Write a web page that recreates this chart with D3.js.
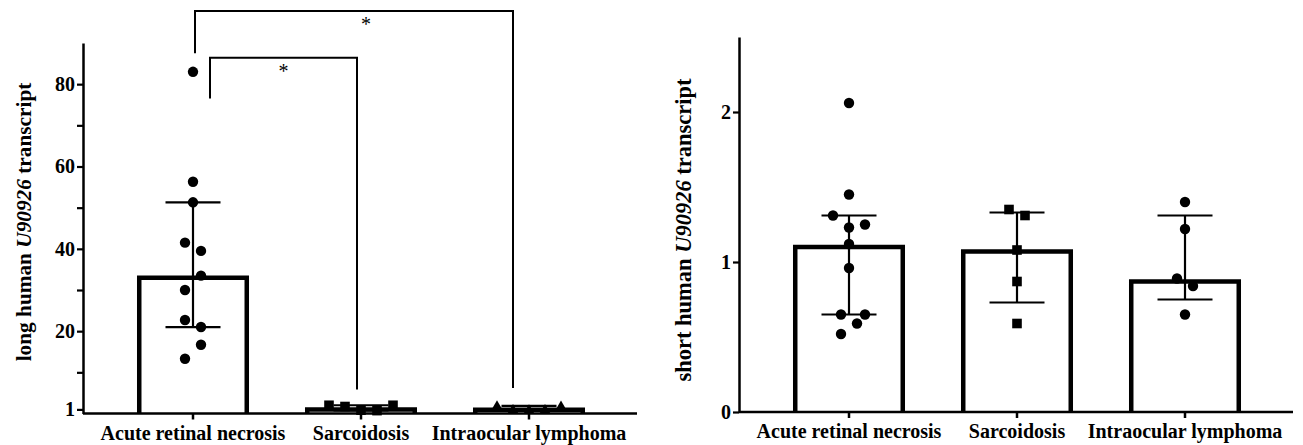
<!DOCTYPE html>
<html lang="en">
<head>
    <meta charset="UTF-8">
    <title>U90926 transcript</title>
    <script src="https://d3js.org/d3.v7.min.js"></script>
    <style>
        body { margin: 0; padding: 0; background: #fff; }
        svg { display: block; font-family: "Liberation Serif", "Times New Roman", serif; }
        .tick text { font-weight: bold; }
    </style>
</head>
<body>
    <svg id="chart" width="1303" height="445"></svg>

    <script>
        // 分类
        const categories = ["Acute retinal necrosis", "Sarcoidosis", "Intraocular lymphoma"];

        // 左图: long human U90926 transcript
        const longArn = [83, 56.3, 51.3, 41.5, 39.5, 33.5, 30, 22.7, 21, 16.7, 13.3];
        const longSarc = [2.0, 1.7, 0.8, 0.7, 2.0];
        const longIol = [1.9, 1.0, 0.9, 1.0, 1.8];
        const longMedian = [33, 1.0, 0.9];
        const longQ1 = [21, 0.75, 0.9];
        const longQ3 = [51.3, 2.0, 1.85];
        const longTicks = [1, 10, 20, 30, 40, 50, 60, 70, 80];
        const longLabels = ["1", "", "20", "", "40", "", "60", "", "80"];

        // 右图: short human U90926 transcript
        const shortArn = [2.06, 1.45, 1.31, 1.23, 1.25, 1.12, 0.96, 0.65, 0.65, 0.59, 0.52];
        const shortSarc = [1.35, 1.31, 1.08, 0.87, 0.59];
        const shortIol = [1.40, 1.22, 0.89, 0.84, 0.65];
        const shortMedian = [1.10, 1.07, 0.87];
        const shortQ1 = [0.65, 0.73, 0.75];
        const shortQ3 = [1.31, 1.33, 1.31];
        const shortTicks = [0, 1, 2];
        const shortLabels = ["0", "1", "2"];

        const svg = d3.select("#chart");
        svg.append("rect").attr("width", 1303).attr("height", 445).attr("fill", "#fff");

        // 画一个点的形状
        function marker(g, shape, x, y) {
            if (shape === "circle") {
                g.append("circle").attr("cx", x).attr("cy", y).attr("r", 5.2).attr("fill", "#000");
            } else if (shape === "square") {
                g.append("rect").attr("x", x - 4.8).attr("y", y - 4.8)
                    .attr("width", 9.6).attr("height", 9.6).attr("fill", "#000");
            } else {
                g.append("path")
                    .attr("d", `M${x},${y - 5.5}L${x + 5.5},${y + 4}L${x - 5.5},${y + 4}Z`)
                    .attr("fill", "#000");
            }
        }

        function drawPanel(p) {
            const g = svg.append("g");
            const x0 = p.axisX;
            const y = d3.scaleLinear().domain(p.domain).range([p.baseY, p.topY]);
            const x = d3.scaleBand().domain(categories)
                .range([x0 + 26, x0 + 530]).paddingInner(0.36).paddingOuter(0.18);
            const bw = x.bandwidth();

            // 柱子（无底边）
            p.median.forEach((m, i) => {
                const l = x(categories[i]), r = l + bw;
                g.append("path")
                    .attr("d", `M${l},${y(0)}V${y(m)}H${r}V${y(0)}`)
                    .attr("fill", "#fff").attr("stroke", "#000")
                    .attr("stroke-width", 4.5).attr("stroke-linejoin", "miter");
            });

            // 误差线
            p.median.forEach((m, i) => {
                const cx = x(categories[i]) + bw / 2;
                const eg = g.append("g").attr("stroke", "#000").attr("stroke-width", 2.2);
                eg.append("line").attr("x1", cx).attr("x2", cx)
                    .attr("y1", y(p.q1[i])).attr("y2", y(p.q3[i]));
                [p.q1[i], p.q3[i]].forEach(v => {
                    eg.append("line").attr("x1", cx - 27.5).attr("x2", cx + 27.5)
                        .attr("y1", y(v)).attr("y2", y(v));
                });
            });

            // 散点
            p.points.forEach((vals, i) => {
                const cx = x(categories[i]) + bw / 2;
                vals.forEach((v, j) => {
                    marker(g, p.shapes[i], cx + p.offsets[i][j] * 8, y(v));
                });
            });

            // x 轴
            g.append("line").attr("x1", x0).attr("x2", x0 + 554)
                .attr("y1", y(0)).attr("y2", y(0))
                .attr("stroke", "#000").attr("stroke-width", 2.5);
            const xa = g.append("g").attr("transform", `translate(0,${y(0)})`)
                .call(d3.axisBottom(x).tickSize(6).tickSizeOuter(0));
            xa.select(".domain").remove();
            xa.selectAll(".tick line").attr("stroke-width", 2.5);
            xa.selectAll(".tick text").attr("font-size", 20).attr("fill", "#000")
                .attr("font-family", "Liberation Serif").attr("dy", "0.62em").attr("y", 14);

            // y 轴
            const ya = g.append("g").attr("transform", `translate(${x0},0)`)
                .call(d3.axisLeft(y).tickValues(p.ticks)
                    .tickFormat((d, i) => p.labels[i]).tickSize(6).tickSizeOuter(0));
            ya.select(".domain").attr("stroke-width", 2.5);
            ya.selectAll(".tick line").attr("stroke-width", 2.2);
            ya.selectAll(".tick text").attr("font-size", 20).attr("fill", "#000")
                .attr("font-family", "Liberation Serif").attr("x", -8);

            // y 轴标题
            const t = g.append("text")
                .attr("transform", `translate(${p.labelX},${p.labelY}) rotate(-90)`)
                .attr("text-anchor", "middle").attr("font-size", p.labelSize).attr("font-weight", "bold");
            t.append("tspan").text(p.title[0] + " ");
            t.append("tspan").attr("font-style", "italic").text("U90926");
            t.append("tspan").text(" transcript");

            // 显著性括号
            (p.brackets || []).forEach(b => {
                const xa1 = x(categories[b.from]) + bw / 2 + b.dxFrom;
                const xb1 = x(categories[b.to]) + bw / 2 + b.dxTo;
                g.append("path")
                    .attr("d", `M${xa1},${y(b.fromEnd)}V${y(b.top)}H${xb1}V${y(b.toEnd)}`)
                    .attr("fill", "none").attr("stroke", "#000").attr("stroke-width", 2);
                g.append("text").attr("x", (xa1 + xb1) / 2 + b.dxLabel).attr("y", y(b.top) + 20)
                    .attr("text-anchor", "middle").attr("font-size", 20).text(b.label);
            });
        }

        drawPanel({
            axisX: 83, baseY: 413.5, topY: 43, domain: [0, 90],
            ticks: longTicks, labels: longLabels,
            median: longMedian, q1: longQ1, q3: longQ3,
            points: [longArn, longSarc, longIol],
            shapes: ["circle", "square", "triangle"],
            offsets: [[0, 0, 0, -1, 1, 1, -1, -1, 1, 1, -1], [-4, -2, 0, 2, 4], [-4, -2, 0, 2, 4]],
            title: ["long human"], labelX: 31, labelY: 222, labelSize: 21.3,
            brackets: [
                { from: 0, to: 1, top: 86.4, fromEnd: 76.5, toEnd: 5.8, dxFrom: 17, dxTo: -4, dxLabel: 0, label: "*" },
                { from: 0, to: 2, top: 97.8, fromEnd: 87.5, toEnd: 6.2, dxFrom: 2, dxTo: -16, dxLabel: 12, label: "*" }
            ]
        });

        drawPanel({
            axisX: 739, baseY: 412, topY: 37, domain: [0, 2.5],
            ticks: shortTicks, labels: shortLabels,
            median: shortMedian, q1: shortQ1, q3: shortQ3,
            points: [shortArn, shortSarc, shortIol],
            shapes: ["circle", "square", "circle"],
            offsets: [[0, 0, -2, 0, 2, 0, 0, -1, 2, 1, -1], [-1, 1, 0, 0, 0], [0, 0, -1, 1, 0]],
            title: ["short human"], labelX: 691, labelY: 230, labelSize: 22.5
        });
    </script>
</body>
</html>
